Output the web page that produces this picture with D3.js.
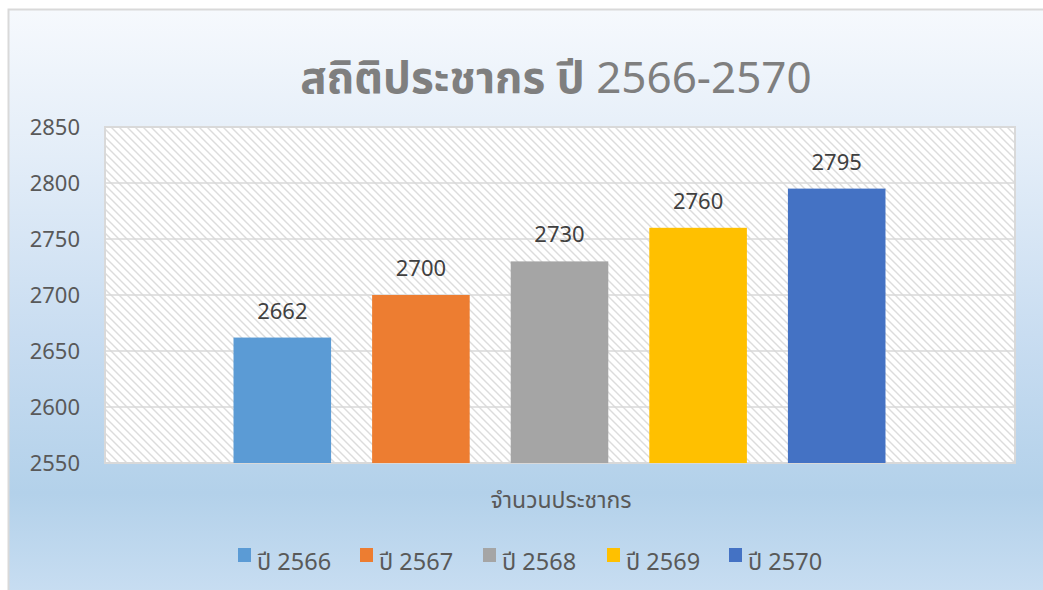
<!DOCTYPE html>
<html>
<head>
<meta charset="utf-8">
<script src="https://cdn.jsdelivr.net/npm/d3@7"></script>
<style>
  html, body { margin: 0; padding: 0; background: #fff; }
  svg { display: block; }
  text { font-family: "Noto Sans Thai", "Leelawadee UI", "Noto Sans", "Open Sans", sans-serif; }
</style>
</head>
<body>
<div class="canvas"></div>
<script>
// ข้อมูลของกราฟ
const category = "จำนวนประชากร";
const seriesNames = ["ปี 2566", "ปี 2567", "ปี 2568", "ปี 2569", "ปี 2570"];
const seriesValues = [2662, 2700, 2730, 2760, 2795];
const seriesColors = ["#5b9bd5", "#ed7d31", "#a5a5a5", "#ffc000", "#4472c4"];
const yTicks = [2550, 2600, 2650, 2700, 2750, 2800, 2850];
const titleThai = "สถิติประชากร ปี ";
const titleYears = "2566-2570";

const width = 1043;
const height = 590;
const plot = { left: 105, right: 1015, top: 127, bottom: 463 };

const svg = d3.select(".canvas").append("svg")
  .attr("width", width)
  .attr("height", height);

const defs = svg.append("defs");

// พื้นหลังไล่สี
const grad = defs.append("linearGradient")
  .attr("id", "bg").attr("x1", 0).attr("y1", 0).attr("x2", 0).attr("y2", 1);
[["0%", "#f6f9fd"], ["25%", "#e3edf8"], ["55%", "#c9ddf1"], ["82%", "#b3d1ea"], ["100%", "#c9def2"]]
  .forEach(([o, c]) => grad.append("stop").attr("offset", o).attr("stop-color", c));

// ลายเส้นทแยงในพื้นที่กราฟ
const pat = defs.append("pattern")
  .attr("id", "hatch")
  .attr("patternUnits", "userSpaceOnUse")
  .attr("width", 8).attr("height", 8);
pat.append("rect").attr("width", 8).attr("height", 8).attr("fill", "#fff");
pat.append("path")
  .attr("d", "M0,0 L8,8 M-4,4 L4,12 M4,-4 L12,4")
  .attr("stroke", "#dcdcdc")
  .attr("stroke-width", 1.4);

svg.append("rect")
  .attr("x", 8.5).attr("y", 9.5)
  .attr("width", width).attr("height", height)
  .attr("fill", "url(#bg)")
  .attr("stroke", "#d9d9d9")
  .attr("stroke-width", 2);

// สเกล
const y = d3.scaleLinear()
  .domain([2550, 2850])
  .range([plot.bottom, plot.top]);

const x1 = d3.scaleBand()
  .domain(seriesNames)
  .range([213, 906])
  .paddingInner(0.296)
  .paddingOuter(0.148);

svg.append("rect")
  .attr("x", plot.left).attr("y", plot.top)
  .attr("width", plot.right - plot.left)
  .attr("height", plot.bottom - plot.top)
  .attr("fill", "url(#hatch)");

// เส้นกริด
svg.append("g")
  .selectAll("line")
  .data(yTicks)
  .join("line")
    .attr("x1", plot.left).attr("x2", plot.right)
    .attr("y1", d => y(d)).attr("y2", d => y(d))
    .attr("stroke", "#d9d9d9")
    .attr("stroke-width", 1.5);

svg.append("rect")
  .attr("x", plot.left).attr("y", plot.top)
  .attr("width", plot.right - plot.left)
  .attr("height", plot.bottom - plot.top)
  .attr("fill", "none")
  .attr("stroke", "#d9d9d9")
  .attr("stroke-width", 2);

// แกน Y
const yAxis = svg.append("g")
  .attr("transform", `translate(${plot.left - 25},0)`)
  .call(d3.axisLeft(y).tickValues(yTicks).tickFormat(d3.format("d")).tickSize(0).tickPadding(0));
yAxis.select(".domain").remove();
yAxis.selectAll("text")
  .attr("fill", "#595959")
  .attr("font-size", 22)
  .attr("dy", "0.35em");

// แท่ง
const data = seriesNames.map((s, i) => ({ name: s, value: seriesValues[i], color: seriesColors[i] }));

svg.append("g")
  .selectAll("rect")
  .data(data)
  .join("rect")
    .attr("x", d => x1(d.name))
    .attr("y", d => y(d.value))
    .attr("width", x1.bandwidth())
    .attr("height", d => y(2550) - y(d.value))
    .attr("fill", d => d.color);

// ป้ายค่า
svg.append("g")
  .selectAll("text")
  .data(data)
  .join("text")
    .attr("x", d => x1(d.name) + x1.bandwidth() / 2)
    .attr("y", d => y(d.value) - 19)
    .attr("text-anchor", "middle")
    .attr("font-size", 22)
    .attr("fill", "#404040")
    .text(d => d.value);

// ชื่อกราฟ
const title = svg.append("text")
  .attr("x", 556).attr("y", 93)
  .attr("text-anchor", "middle")
  .attr("font-size", 44)
  .attr("fill", "#7f7f7f");
title.append("tspan").attr("font-weight", "bold").text(titleThai);
title.append("tspan").text(titleYears);

// ชื่อแกน X
svg.append("text")
  .attr("x", 561).attr("y", 508)
  .attr("text-anchor", "middle")
  .attr("font-size", 23)
  .attr("fill", "#595959")
  .text(category);

// คำอธิบาย
const legendX = [238, 360, 483, 607, 729];
const legend = svg.append("g")
  .selectAll("g")
  .data(data)
  .join("g")
    .attr("transform", (d, i) => `translate(${legendX[i]},548)`);
legend.append("rect")
  .attr("width", 13).attr("height", 14)
  .attr("fill", d => d.color);
legend.append("text")
  .attr("x", 19).attr("y", 22)
  .attr("font-size", 23.5)
  .attr("fill", "#595959")
  .text(d => d.name);
</script>
</body>
</html>
